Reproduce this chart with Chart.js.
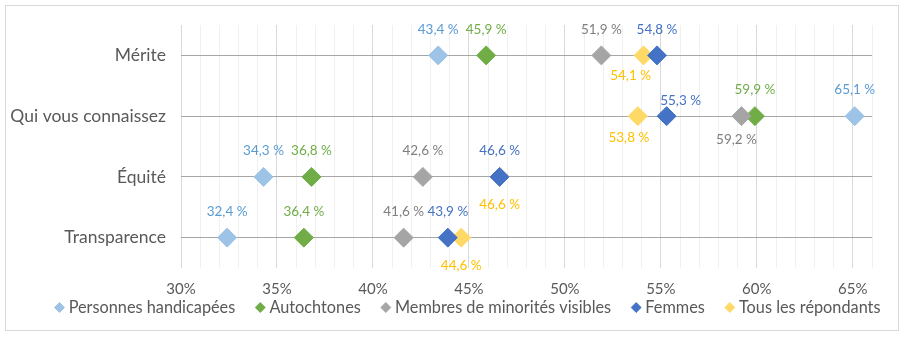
<!DOCTYPE html>
<html>
<head>
<meta charset="utf-8">
<script src="https://cdn.jsdelivr.net/npm/chart.js@4"></script>
<style>
  html, body { margin: 0; padding: 0; background: #fff; }
  #wrap {
    position: absolute; left: 5px; top: 5px;
    width: 892px; height: 324px;
    border: 1px solid #d9d9d9;
  }
</style>
</head>
<body>
<div id="wrap"><canvas id="myChart"></canvas></div>
<script>
const categories = ["Mérite", "Qui vous connaissez", "Équité", "Transparence"];

const handicapees = [43.4, 65.1, 34.3, 32.4];
const autochtones = [45.9, 59.9, 36.8, 36.4];
const minorites = [51.9, 59.2, 42.6, 41.6];
const femmes = [54.8, 55.3, 46.6, 43.9];
const tous = [54.1, 53.8, 46.6, 44.6];

const xMin = 30;
const xMax = 66;

const FONT = "Lato, 'Open Sans', sans-serif";
const TEXT = "#595959";
const LEGEND_PAD = 24;
const LEGEND_FONT = 16.3;

const labelStyle = [
  { color: "#5b9bd5", pos: ["above", "above", "above", "above"] },
  { color: "#70ad47", pos: ["above", "above", "above", "above"] },
  { color: "#7f7f7f", pos: ["above", "below", "above", "above"] },
  { color: "#4472c4", pos: ["above", "above", "above", "above"] },
  { color: "#ffc000", pos: ["below", "below", "below", "below"] },
];
// hand nudges for crowded labels, key is "series-row"
const labelNudge = {
  "3-1": [14, 11],
  "4-0": [-13, 0],
  "4-1": [-9, 2],
  "2-1": [-5, 4],
  "4-2": [0, 8],
  "4-3": [0, 8],
};

const valueLabels = {
  id: "valueLabels",
  afterDatasetsDraw(chart) {
    const ctx = chart.ctx;
    ctx.save();
    ctx.font = "13.5px " + FONT;
    ctx.textAlign = "center";
    ctx.textBaseline = "middle";
    chart.data.datasets.forEach((ds, i) => {
      const meta = chart.getDatasetMeta(i);
      meta.data.forEach((el, j) => {
        const st = labelStyle[i];
        const n = labelNudge[i + "-" + j] || [0, 0];
        const dy = st.pos[j] === "above" ? -26 : 20;
        ctx.fillStyle = st.color;
        const txt = ds.data[j].toFixed(1).replace(".", ",") + " %";
        ctx.fillText(txt, el.x + n[0], el.y + dy + n[1]);
      });
    });
    ctx.restore();
  },
};

// legend sits tight under the tick labels, centred under the plot
const legendPlace = {
  id: "legendPlace",
  afterLayout(chart) {
    const lg = chart.legend;
    const lw = lg.lineWidths[0];
    const natural = (lg.left + LEGEND_PAD + lg.right - lw) / 2;
    const dx = 463.5 - (lw - LEGEND_PAD) / 2 - natural;
    const dy = 301.5 - (lg.top + LEGEND_PAD + LEGEND_FONT / 2);
    lg.left += dx; lg.right += dx;
    lg.top += dy; lg.bottom += dy;
  },
};

function series(label, data, color, order) {
  return {
    label: label,
    data: data,
    showLine: false,
    pointStyle: "rectRot",
    pointRadius: 9.5,
    pointHoverRadius: 9.5,
    pointBorderWidth: 1,
    backgroundColor: color,
    borderColor: color,
    order: order,
  };
}

const chart = new Chart(document.getElementById("myChart"), {
  type: "line",
  data: {
    labels: categories,
    datasets: [
      series("Personnes handicapées", handicapees, "#9dc3e6", 5),
      series("Autochtones", autochtones, "#70ad47", 4),
      series("Membres de minorités visibles", minorites, "#a5a5a5", 3),
      series("Femmes", femmes, "#4472c4", 1),
      series("Tous les répondants", tous, "#ffd966", 2),
    ],
  },
  plugins: [valueLabels, legendPlace],
  options: {
    responsive: true,
    maintainAspectRatio: false,
    animation: false,
    indexAxis: "y",
    layout: { padding: { top: 19, right: 0, left: 0, bottom: -18.3 } },
    scales: {
      x: {
        type: "linear",
        min: xMin,
        max: xMax,
        afterFit: (s) => { s.height = 30; s.paddingLeft = 0; s.paddingRight = 0; },
        ticks: {
          stepSize: 1,
          autoSkip: false,
          maxRotation: 0,
          padding: 12,
          color: TEXT,
          font: { family: FONT, size: 15 },
          callback: (v) => (v % 5 === 0 ? v + "%" : ""),
        },
        grid: {
          drawTicks: false,
          color: (c) => (c.tick && c.tick.value % 5 === 0 ? "#d9d9d9" : "#f0f0f0"),
        },
        border: { display: false },
      },
      y: {
        type: "category",
        offset: true,
        afterFit: (s) => { s.width = 175; s.paddingTop = 0; s.paddingBottom = 0; },
        ticks: {
          padding: 15,
          color: TEXT,
          font: { family: FONT, size: 17.5 },
        },
        grid: { offset: false, drawTicks: false, color: "#a6a6a6" },
        border: { display: false },
      },
      // empty strip on the right of the plot
      yRight: {
        type: "category",
        position: "right",
        afterFit: (s) => { s.width = 26; s.paddingTop = 0; s.paddingBottom = 0; },
        ticks: { display: false },
        grid: { display: false },
        border: { display: false },
      },
    },
    plugins: {
      tooltip: { enabled: false },
      legend: {
        position: "bottom",
        labels: {
          usePointStyle: true,
          boxWidth: 2,
          boxHeight: 7,
          padding: LEGEND_PAD,
          color: TEXT,
          font: { family: FONT, size: LEGEND_FONT },
          sort: (a, b) => a.datasetIndex - b.datasetIndex,
        },
      },
    },
  },
});
</script>
</body>
</html>
